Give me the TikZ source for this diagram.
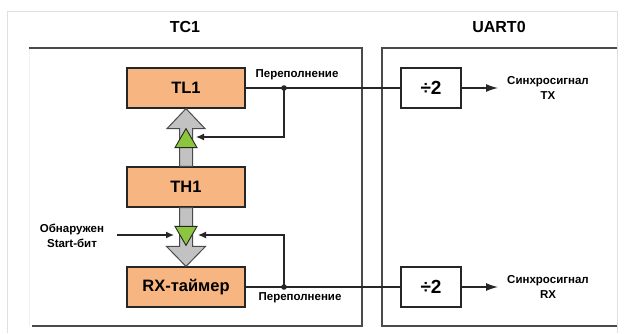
\documentclass[tikz,border=0pt]{standalone}
\usepackage{fontspec}
\setmainfont{Liberation Sans}
\usetikzlibrary{arrows.meta, calc, positioning}
\definecolor{regfill}{HTML}{F7B581}
\definecolor{trigfill}{HTML}{8CC63F}
\definecolor{fatgray}{HTML}{C2C2C2}
\definecolor{wirecol}{HTML}{262626}
\definecolor{framecol}{HTML}{4A4A4A}

\tikzset{
	reg/.style={draw=wirecol, fill=regfill, line width=1.2pt, minimum width=118pt, minimum height=40pt, inner sep=0pt, font=\bfseries\fontsize{16.5}{18}\selectfont},
	divbox/.style={draw=wirecol, fill=white, line width=1.2pt, minimum width=60pt, minimum height=40pt, inner sep=0pt, font=\bfseries\fontsize{19}{21}\selectfont},
	lbl/.style={font=\bfseries\fontsize{11.5}{15}\selectfont, align=center, inner sep=0pt},
	title/.style={font=\bfseries\fontsize{16}{18}\selectfont, inner sep=0pt},
	wire/.style={draw=wirecol, line width=1.3pt},
	fatarrow/.style={draw=framecol, fill=fatgray, line width=1pt, line join=miter},
	trig/.style={draw=wirecol, fill=trigfill, line width=0.9pt, line join=miter},
	blockline/.style={draw=framecol, line width=2.2pt},
}

\begin{document}
\begin{tikzpicture}[x=1pt, y=-1pt]
	\useasboundingbox (0,0) rectangle (624,333);
	\draw[black!12] (7,333) -- (7,11) -- (617,11) -- (617,333);
	\draw[black!6, line width=1pt] (29,48) -- (29,326);

	\coordinate (C1) at (185,27);
	\coordinate (C2) at (499,27);
	\node[title] (tc) at (C1) {TC1};
	\node[title] (uart) at (C2) {UART0};

	\draw[blockline] (29,48) -- (362,48) -- (362,326) -- (32,326);
	\draw[blockline] (617,48) -- (382,48) -- (382,326) -- (617,326);

	\node[reg] (TL1) at (186,88)  {TL1};
	\node[reg] (TH1) at (186,187) {TH1};
	\node[reg] (RX)  at (186,287) {RX-таймер};

	\node[divbox] (D1) at (431,88)  {÷2};
	\node[divbox] (D2) at (431,287) {÷2};

	\draw[fatarrow] ($(TH1.north)+(-6.5,0)$) |- ($(TL1.south)+(-19,20)$) -- (TL1.south)
		-- ($(TL1.south)+(19,20)$) -| ($(TH1.north)+(6.5,0)$) -- cycle;
	\draw[fatarrow] ($(TH1.south)+(-6.5,0)$) |- ($(RX.north)+(-19.5,-20)$) -- (RX.north)
		-- ($(RX.north)+(19.5,-20)$) -| ($(TH1.south)+(6.5,0)$) -- cycle;
	\draw[trig] ($(TL1.south)+(0,20)$) -- ($(TL1.south)+(11,39)$) -- ($(TL1.south)+(-11,39)$) -- cycle;
	\draw[trig] ($(RX.north)+(0,-21)$) -- ($(RX.north)+(11,-40)$) -- ($(RX.north)+(-11,-40)$) -- cycle;

	\coordinate (J1) at (284,88);
	\coordinate (J2) at (284,287);
	\coordinate (FU) at (196,137);
	\coordinate (FD) at (198,235);
	\coordinate (SB) at (117,235);
	\coordinate (SBe) at (174,235);
	\coordinate (TXo) at (498,88);
	\coordinate (RXo) at (498,287);

	\draw[wire] (TL1.east) -- (D1.west);
	\draw[wire] (RX.east) -- (D2.west);
	\draw[wire, -{Latex[length=8pt, width=7pt]}] (J1) |- (FU);
	\draw[wire, -{Latex[length=8pt, width=7pt]}] (J2) |- (FD);
	\draw[wire, -{Latex[length=8pt, width=7pt]}] (SB) -- (SBe);
	\fill[wirecol] (J1) circle (2.8pt);
	\fill[wirecol] (J2) circle (2.8pt);

	\draw[wire, -{Latex[length=12pt, width=8pt]}] (D1.east) -- (TXo);
	\draw[wire, -{Latex[length=12pt, width=8pt]}] (D2.east) -- (RXo);

	\node[lbl] (ov1) at (297,75)  {Переполнение};
	\node[lbl] (ov2) at (300,298) {Переполнение};
	\node[lbl] (sb)  at (72,236)  {Обнаружен\\Start-бит};
	\node[lbl] (tx)  at (548,88)  {Синхросигнал\\TX};
	\node[lbl] (rx)  at (548,287) {Синхросигнал\\RX};
\end{tikzpicture}
\end{document}
